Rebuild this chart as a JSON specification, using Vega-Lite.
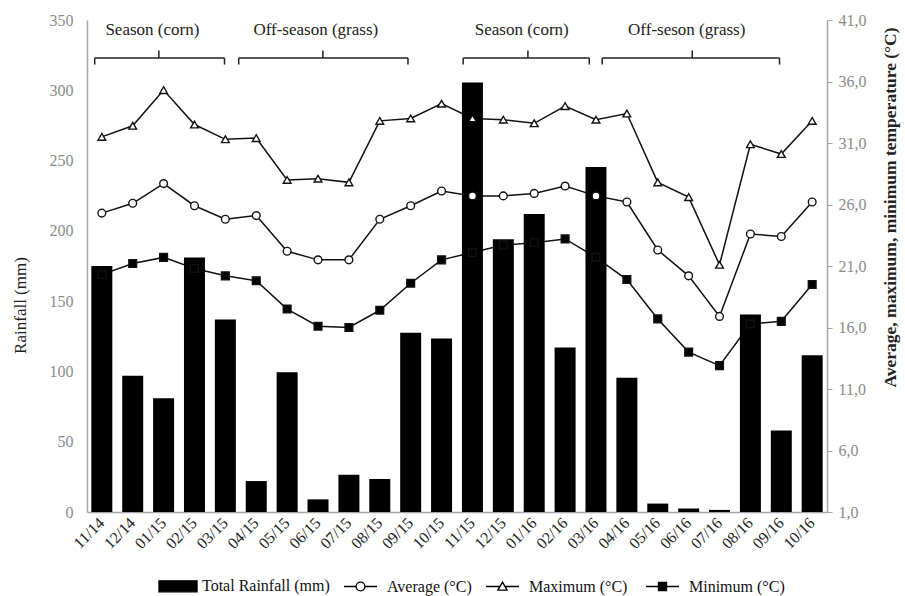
{
  "$schema": "https://vega.github.io/schema/vega-lite/v6.json",
  "width": 740,
  "height": 492,
  "autosize": {"type": "none"},
  "padding": {"left": 87, "top": 20, "right": 78, "bottom": 84},
  "background": "white",
  "config": {
    "view": {"stroke": null},
    "font": "Liberation Serif",
    "axis": {"grid": false},
    "legend": {
      "orient": "none",
      "legendX": 68,
      "legendY": 558,
      "direction": "horizontal",
      "title": null,
      "labelFont": "Liberation Serif",
      "labelFontSize": 16,
      "labelColor": "#111",
      "symbolSize": 64,
      "symbolStrokeWidth": 1.4,
      "symbolStrokeColor": "black",
      "symbolOpacity": 1,
      "labelOffset": 31,
      "columnPadding": 10
    }
  },
  "datasets": {
    "rain": [
      {"month": "11/14", "rain": 175}, {"month": "12/14", "rain": 97}, {"month": "01/15", "rain": 81},
      {"month": "02/15", "rain": 181}, {"month": "03/15", "rain": 137}, {"month": "04/15", "rain": 22},
      {"month": "05/15", "rain": 99.5}, {"month": "06/15", "rain": 9}, {"month": "07/15", "rain": 26.5},
      {"month": "08/15", "rain": 23.5}, {"month": "09/15", "rain": 127.5}, {"month": "10/15", "rain": 123.5},
      {"month": "11/15", "rain": 305.5}, {"month": "12/15", "rain": 194}, {"month": "01/16", "rain": 212},
      {"month": "02/16", "rain": 117}, {"month": "03/16", "rain": 245.5}, {"month": "04/16", "rain": 95.5},
      {"month": "05/16", "rain": 6}, {"month": "06/16", "rain": 2.5}, {"month": "07/16", "rain": 1.5},
      {"month": "08/16", "rain": 140.5}, {"month": "09/16", "rain": 58}, {"month": "10/16", "rain": 111.5}
    ],
    "temp": [
      {"month": "11/14", "series": "Average (°C)", "temp": 25.3}, {"month": "12/14", "series": "Average (°C)", "temp": 26.1},
      {"month": "01/15", "series": "Average (°C)", "temp": 27.7}, {"month": "02/15", "series": "Average (°C)", "temp": 25.9},
      {"month": "03/15", "series": "Average (°C)", "temp": 24.8}, {"month": "04/15", "series": "Average (°C)", "temp": 25.1},
      {"month": "05/15", "series": "Average (°C)", "temp": 22.2}, {"month": "06/15", "series": "Average (°C)", "temp": 21.5},
      {"month": "07/15", "series": "Average (°C)", "temp": 21.5}, {"month": "08/15", "series": "Average (°C)", "temp": 24.8},
      {"month": "09/15", "series": "Average (°C)", "temp": 25.9}, {"month": "10/15", "series": "Average (°C)", "temp": 27.1},
      {"month": "11/15", "series": "Average (°C)", "temp": 26.7}, {"month": "12/15", "series": "Average (°C)", "temp": 26.7},
      {"month": "01/16", "series": "Average (°C)", "temp": 26.9}, {"month": "02/16", "series": "Average (°C)", "temp": 27.5},
      {"month": "03/16", "series": "Average (°C)", "temp": 26.7}, {"month": "04/16", "series": "Average (°C)", "temp": 26.2},
      {"month": "05/16", "series": "Average (°C)", "temp": 22.3}, {"month": "06/16", "series": "Average (°C)", "temp": 20.2},
      {"month": "07/16", "series": "Average (°C)", "temp": 16.9}, {"month": "08/16", "series": "Average (°C)", "temp": 23.6},
      {"month": "09/16", "series": "Average (°C)", "temp": 23.4}, {"month": "10/16", "series": "Average (°C)", "temp": 26.2},
      {"month": "11/14", "series": "Maximum  (°C)", "temp": 31.5}, {"month": "12/14", "series": "Maximum  (°C)", "temp": 32.4},
      {"month": "01/15", "series": "Maximum  (°C)", "temp": 35.3}, {"month": "02/15", "series": "Maximum  (°C)", "temp": 32.5},
      {"month": "03/15", "series": "Maximum  (°C)", "temp": 31.3}, {"month": "04/15", "series": "Maximum  (°C)", "temp": 31.4},
      {"month": "05/15", "series": "Maximum  (°C)", "temp": 28.0}, {"month": "06/15", "series": "Maximum  (°C)", "temp": 28.1},
      {"month": "07/15", "series": "Maximum  (°C)", "temp": 27.8}, {"month": "08/15", "series": "Maximum  (°C)", "temp": 32.8},
      {"month": "09/15", "series": "Maximum  (°C)", "temp": 33.0}, {"month": "10/15", "series": "Maximum  (°C)", "temp": 34.2},
      {"month": "11/15", "series": "Maximum  (°C)", "temp": 33.0}, {"month": "12/15", "series": "Maximum  (°C)", "temp": 32.9},
      {"month": "01/16", "series": "Maximum  (°C)", "temp": 32.6}, {"month": "02/16", "series": "Maximum  (°C)", "temp": 34.0},
      {"month": "03/16", "series": "Maximum  (°C)", "temp": 32.9}, {"month": "04/16", "series": "Maximum  (°C)", "temp": 33.4},
      {"month": "05/16", "series": "Maximum  (°C)", "temp": 27.8}, {"month": "06/16", "series": "Maximum  (°C)", "temp": 26.6},
      {"month": "07/16", "series": "Maximum  (°C)", "temp": 21.1}, {"month": "08/16", "series": "Maximum  (°C)", "temp": 30.9},
      {"month": "09/16", "series": "Maximum  (°C)", "temp": 30.1}, {"month": "10/16", "series": "Maximum  (°C)", "temp": 32.8},
      {"month": "11/14", "series": "Minimum (°C)", "temp": 20.3}, {"month": "12/14", "series": "Minimum (°C)", "temp": 21.2},
      {"month": "01/15", "series": "Minimum (°C)", "temp": 21.7}, {"month": "02/15", "series": "Minimum (°C)", "temp": 20.8},
      {"month": "03/15", "series": "Minimum (°C)", "temp": 20.2}, {"month": "04/15", "series": "Minimum (°C)", "temp": 19.8},
      {"month": "05/15", "series": "Minimum (°C)", "temp": 17.5}, {"month": "06/15", "series": "Minimum (°C)", "temp": 16.1},
      {"month": "07/15", "series": "Minimum (°C)", "temp": 16.0}, {"month": "08/15", "series": "Minimum (°C)", "temp": 17.4},
      {"month": "09/15", "series": "Minimum (°C)", "temp": 19.6}, {"month": "10/15", "series": "Minimum (°C)", "temp": 21.5},
      {"month": "11/15", "series": "Minimum (°C)", "temp": 22.1}, {"month": "12/15", "series": "Minimum (°C)", "temp": 22.7},
      {"month": "01/16", "series": "Minimum (°C)", "temp": 22.9}, {"month": "02/16", "series": "Minimum (°C)", "temp": 23.2},
      {"month": "03/16", "series": "Minimum (°C)", "temp": 21.7}, {"month": "04/16", "series": "Minimum (°C)", "temp": 19.9},
      {"month": "05/16", "series": "Minimum (°C)", "temp": 16.7}, {"month": "06/16", "series": "Minimum (°C)", "temp": 14.0},
      {"month": "07/16", "series": "Minimum (°C)", "temp": 12.9}, {"month": "08/16", "series": "Minimum (°C)", "temp": 16.3},
      {"month": "09/16", "series": "Minimum (°C)", "temp": 16.5}, {"month": "10/16", "series": "Minimum (°C)", "temp": 19.5}
    ],
    "legend": [
      {"series": "Total Rainfall (mm)"}, {"series": "Average (°C)"}, {"series": "Maximum  (°C)"}, {"series": "Minimum (°C)"}
    ],
    "brackets": [
      {"label": "Season (corn)", "start": 0.25, "end": 4.46, "mid": 2.33, "labelpos": 2.12},
      {"label": "Off-season (grass)", "start": 4.92, "end": 10.41, "mid": 7.65, "labelpos": 7.42},
      {"label": "Season (corn)", "start": 12.2, "end": 16.29, "mid": 14.3, "labelpos": 14.1},
      {"label": "Off-seson (grass)", "start": 16.71, "end": 22.46, "mid": 19.63, "labelpos": 19.45}
    ]
  },
  "layer": [
    {
      "layer": [
        {
          "data": {"name": "temp"},
          "mark": {"type": "line", "color": "#111", "strokeWidth": 1.5},
          "encoding": {
            "x": {"field": "month", "type": "ordinal", "sort": null},
            "y": {"field": "temp", "type": "quantitative", "scale": {"domain": [1, 41], "nice": false, "zero": false}, "axis": null},
            "detail": {"field": "series"}
          }
        },
        {
          "data": {"name": "rain"},
          "mark": {"type": "bar", "color": "black"},
          "encoding": {
            "x": {
              "field": "month", "type": "ordinal", "sort": null,
              "scale": {"type": "band", "paddingInner": 0.32, "paddingOuter": 0.14,
                "domain": ["11/14","12/14","01/15","02/15","03/15","04/15","05/15","06/15","07/15","08/15","09/15","10/15","11/15","12/15","01/16","02/16","03/16","04/16","05/16","06/16","07/16","08/16","09/16","10/16"]},
              "axis": {"title": null, "labelAngle": -45, "labelFontSize": 16, "labelColor": "#222", "domainColor": "#a6a6a6", "domainWidth": 1.5, "ticks": false, "labelPadding": 8}
            },
            "y": {
              "field": "rain", "type": "quantitative",
              "scale": {"domain": [0, 350], "nice": false},
              "axis": {"title": "Rainfall (mm)", "values": [0, 50, 100, 150, 200, 250, 300, 350], "labelFontSize": 16, "labelColor": "#8a8a8a", "ticks": false, "domainColor": "#a6a6a6", "domainWidth": 1.5, "titleFontSize": 17, "titleFontWeight": "normal", "titleColor": "#222", "labelPadding": 14, "titlePadding": 20, "titleY": 285}
            }
          }
        },
        {
          "data": {"name": "temp"},
          "mark": {"type": "point", "filled": true, "stroke": "#111", "strokeWidth": 1.4, "size": 60, "opacity": 1},
          "encoding": {
            "x": {"field": "month", "type": "ordinal", "sort": null},
            "y": {
              "field": "temp", "type": "quantitative",
              "scale": {"domain": [1, 41], "nice": false, "zero": false},
              "axis": {"orient": "right", "title": "Average, maximum, minimum temperature (°C)", "titleAngle": 270, "titleY": 187, "values": [1, 6, 11, 16, 21, 26, 31, 36, 41], "labelExpr": "replace(format(datum.value, '.1f'), '.', ',')", "labelFontSize": 16, "labelColor": "#8a8a8a", "tickColor": "#a6a6a6", "tickSize": 5, "domainColor": "#a6a6a6", "domainWidth": 1.5, "titleFontSize": 17.5, "titleFontWeight": "bold", "titleColor": "#222", "labelPadding": 6, "titlePadding": 33}
            },
            "shape": {"field": "series", "type": "nominal", "legend": null,
              "scale": {"domain": ["Average (°C)", "Maximum  (°C)", "Minimum (°C)"], "range": ["circle", "triangle-up", "square"]}},
            "fill": {"field": "series", "type": "nominal", "legend": null,
              "scale": {"domain": ["Average (°C)", "Maximum  (°C)", "Minimum (°C)"], "range": ["white", "white", "black"]}}
          }
        },
        {
          "data": {"name": "legend"},
          "mark": {"type": "point", "filled": true, "strokeWidth": 1.4, "opacity": 0},
          "encoding": {
            "shape": {"field": "series", "type": "nominal",
              "legend": {"symbolOpacity": 1, "encode": {"symbols": {"update": {"opacity": {"value": 1}}}}},
              "scale": {"domain": ["Total Rainfall (mm)", "Average (°C)", "Maximum  (°C)", "Minimum (°C)"],
                "range": [
                  "M-1,-1.375H8.5V1.375H-1Z",
                  "M-1,0H2.025M4.225,0H7.25M4.225,0A1.1,1.1,0,1,1,2.025,0A1.1,1.1,0,1,1,4.225,0Z",
                  "M-1,0H2.55M3.7,0H7.25M3.125,-1.1L4.275,0.9L1.975,0.9Z",
                  "M-1,0H7.25M2.125,-1H4.125V1H2.125Z"
                ]}},
            "fill": {"field": "series", "type": "nominal",
              "scale": {"domain": ["Total Rainfall (mm)", "Average (°C)", "Maximum  (°C)", "Minimum (°C)"], "range": ["black", "white", "white", "black"]}},
            "stroke": {"field": "series", "type": "nominal",
              "scale": {"domain": ["Total Rainfall (mm)", "Average (°C)", "Maximum  (°C)", "Minimum (°C)"], "range": ["black", "black", "black", "black"]}}
          }
        }
      ],
      "resolve": {"scale": {"y": "independent", "shape": "independent", "fill": "independent", "stroke": "independent"}}
    },
    {
      "data": {"name": "brackets"},
      "layer": [
        {
          "mark": {"type": "rule", "color": "#222", "strokeWidth": 1.5},
          "encoding": {
            "x": {"field": "start", "type": "quantitative", "scale": {"domain": [0, 24], "nice": false, "zero": false}, "axis": null},
            "x2": {"field": "end"},
            "y": {"datum": 322.9, "type": "quantitative", "scale": {"domain": [0, 350], "nice": false}, "axis": null}
          }
        },
        {
          "mark": {"type": "rule", "color": "#222", "strokeWidth": 1.5},
          "encoding": {
            "x": {"field": "start", "type": "quantitative"},
            "y": {"datum": 322.9, "type": "quantitative"},
            "y2": {"datum": 318.3}
          }
        },
        {
          "mark": {"type": "rule", "color": "#222", "strokeWidth": 1.5},
          "encoding": {
            "x": {"field": "end", "type": "quantitative"},
            "y": {"datum": 322.9, "type": "quantitative"},
            "y2": {"datum": 318.3}
          }
        },
        {
          "mark": {"type": "rule", "color": "#222", "strokeWidth": 1.5},
          "encoding": {
            "x": {"field": "mid", "type": "quantitative"},
            "y": {"datum": 322.9, "type": "quantitative"},
            "y2": {"datum": 328.3}
          }
        },
        {
          "mark": {"type": "text", "color": "#222", "fontSize": 17, "font": "Liberation Serif", "baseline": "middle"},
          "encoding": {
            "x": {"field": "labelpos", "type": "quantitative"},
            "y": {"datum": 343, "type": "quantitative"},
            "text": {"field": "label"}
          }
        }
      ]
    }
  ],
  "resolve": {"scale": {"x": "independent", "y": "independent"}}
}
